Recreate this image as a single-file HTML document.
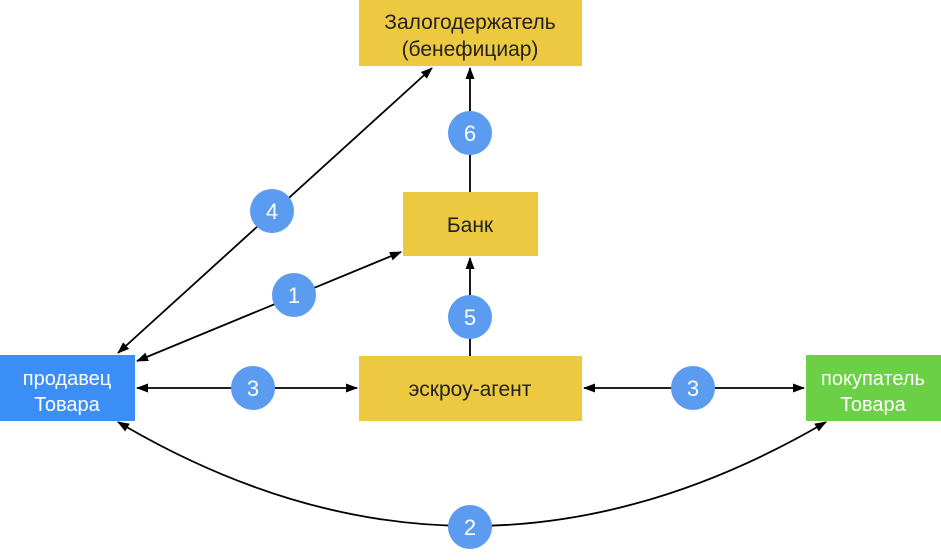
<!DOCTYPE html>
<html><head><meta charset="utf-8"><style>
body{margin:0;width:941px;height:555px;background:#fff;overflow:hidden;font-family:"Liberation Sans",sans-serif}
</style></head><body>
<svg width="941" height="555" xmlns="http://www.w3.org/2000/svg" font-family="Liberation Sans, sans-serif">
<defs>
<marker id="a" markerWidth="12" markerHeight="9" refX="11" refY="4.5" orient="auto-start-reverse" markerUnits="userSpaceOnUse">
<path d="M0,0 L12,4.5 L0,9 Z" fill="#000"/></marker>
</defs>
<rect x="359" y="0" width="223" height="66" fill="#ecc940"/>
<rect x="403" y="192" width="135" height="64" fill="#ecc940"/>
<rect x="359" y="356" width="223" height="65" fill="#ecc940"/>
<rect x="0" y="355" width="135" height="66" fill="#3a8ef6"/>
<rect x="806" y="355" width="135" height="66" fill="#6cd046"/>
<g stroke="#000" stroke-width="1.8" fill="none">
<line x1="470" y1="192" x2="470" y2="68" marker-end="url(#a)"/>
<line x1="470" y1="356" x2="470" y2="258" marker-end="url(#a)"/>
<line x1="118" y1="353" x2="432" y2="68" marker-start="url(#a)" marker-end="url(#a)"/>
<line x1="137" y1="361" x2="401" y2="252" marker-start="url(#a)" marker-end="url(#a)"/>
<line x1="137" y1="388" x2="357" y2="388" marker-start="url(#a)" marker-end="url(#a)"/>
<line x1="584" y1="388" x2="804" y2="388" marker-start="url(#a)" marker-end="url(#a)"/>
<path d="M118,422 Q470,630 826,422" marker-start="url(#a)" marker-end="url(#a)"/>
</g>
<g fill="#5b9cf0">
<circle cx="470" cy="133" r="22"/><circle cx="272" cy="211" r="22"/>
<circle cx="294" cy="295" r="22"/><circle cx="470" cy="317" r="22"/>
<circle cx="253" cy="388" r="22"/><circle cx="693" cy="388" r="22"/>
<circle cx="470" cy="527" r="22"/>
</g>
<g fill="#fff" font-size="22" text-anchor="middle">
<text x="470" y="141">6</text><text x="272" y="219">4</text>
<text x="294" y="303">1</text><text x="470" y="325">5</text>
<text x="253" y="396">3</text><text x="693" y="396">3</text>
<text x="470" y="535">2</text>
</g>
<g font-size="21" text-anchor="middle" fill="#222">
<text x="470" y="29">Залогодержатель</text>
<text x="470" y="56">(бенефициар)</text>
<text x="470" y="232">Банк</text>
<text x="470" y="396">эскроу-агент</text>
</g>
<g font-size="20" text-anchor="middle" fill="#fff">
<text x="67" y="385">продавец</text><text x="67" y="411">Товара</text>
<text x="873" y="385">покупатель</text><text x="873" y="411">Товара</text>
</g>
</svg>
</body></html>
